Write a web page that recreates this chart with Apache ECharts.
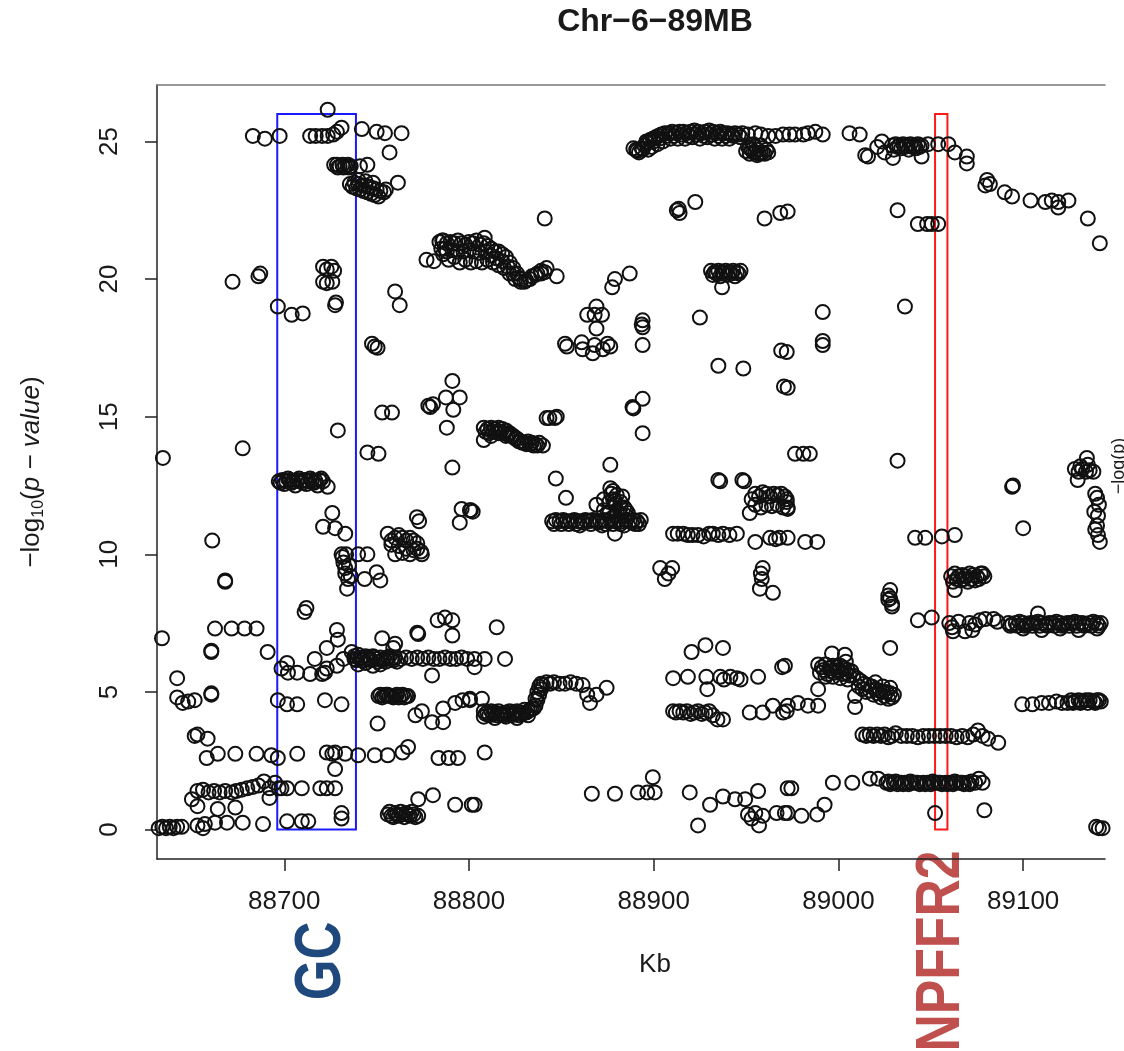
<!DOCTYPE html>
<html><head><meta charset="utf-8">
<script src="https://cdn.jsdelivr.net/npm/echarts@6/dist/echarts.min.js"></script>
<style>html,body{margin:0;padding:0;background:#fff}#c{width:1124px;height:1051px}</style>
</head><body><div id="c"></div>
<script>
// ---- Data (kb position, -log10 p) ----
const xTicks = [88700, 88800, 88900, 89000, 89100];
const yTicks = [0, 5, 10, 15, 20, 25];
const gcBox = [88696.2, 88738.8, 0, 26.0];
const npffr2Box = [89052.3, 89059.0, 0, 26.0];

const gcTop = [[88683,25.2],[88689.5,25.1],[88697.5,25.2],[88714,25.2],[88717,25.2],[88720.5,25.2],[88723.5,25.2],[88726.5,25.25],[88728.5,25.35],[88731,25.5],[88723.5,26.15],[88742,25.45],[88750,25.35],[88754.5,25.3],[88763.5,25.3],[88757,24.6]];
const gcBlob24 = [[88727,24.15],[88728.5,24.15],[88730,24.1],[88731.5,24.15],[88733,24.1],[88734.5,24.15],[88736,24.1],[88741,24.1],[88745,24.15],
  [88735.5,23.45],[88738,23.5],[88740,23.45],[88742,23.4],[88744,23.4],[88746,23.35],[88748,23.3],[88750,23.25],[88752,23.2],[88754,23.15],[88755,23.25],[88761.5,23.5],[88740,23.6],[88744,23.55],[88748,23.5],
  [88729,24.05],[88732,24.05],[88735,24.05],[88737,23.35],[88739,23.3],[88741,23.25],[88743,23.2],[88745,23.15],[88747,23.1],[88749,23.05],[88751,23.0]];
const gc20 = [[88721,20.45],[88723,20.35],[88725.5,20.45],[88727,20.3],[88721,19.9],[88723,19.85],[88726,19.9],[88728,19.15],[88727.5,19.05],[88687,20.2],[88686,20.1],[88672,19.9],
  [88696.5,19.0],[88704,18.7],[88710,18.75],[88760,19.55],[88762.5,19.05],[88747.5,17.65],[88749,17.55],[88750.5,17.5]];
const band21 = [[88784,21.35],[88786,21.4],[88788,21.3],[88790,21.35],[88792,21.3],[88794,21.4],[88796,21.3],[88798,21.25],[88800,21.35],[88802,21.3],[88804,21.4],[88806,21.25],[88808,21.3],[88810,21.2],[88812,21.1],[88814,21.0],[88816,21.0],[88818,20.9],[88820,20.8],[88822,20.6],[88824,20.4],[88826,20.2],[88828,20.0],
  [88786,20.9],[88789,20.7],[88792,20.8],[88795,20.6],[88798,20.7],[88801,20.6],[88804,20.65],[88807,20.6],[88810,20.7],[88813,20.6],[88816,20.5],[88819,20.4],[88822,20.2],[88825,20.0],[88828,19.9],[88831,19.95],[88834,20.1],[88837,20.2],[88839,20.3],[88841,20.25],[88842,20.4],
  [88808.5,21.5],[88847.5,20.1],[88777,20.7],[88781,20.65],[88785.5,21.4],[88787,21.1],[88841,22.2],
  [88785,21.1],[88788,21.0],[88791,21.05],[88794,21.0],[88797,21.0],[88800,21.05],[88803,21.0],[88806,20.95],[88809,21.0],[88812,20.85],[88815,20.75],[88818,20.65],[88821,20.45],[88824,20.2],[88827,20.05],[88830,19.9],[88833,20.0],[88836,20.15],[88839,20.2]];
const top25 = [[88889,24.75],[88890.5,24.7],[88892,24.6],[88893.5,24.75],[88895,24.85],[88896.5,24.95],[88898,25.05],[88899.5,25.1],[88901,25.15],[88902.5,25.2],[88904,25.25],[88906,25.3],[88908,25.3],[88910,25.35],[88912,25.3],[88914,25.35],[88916,25.35],[88918,25.3],[88920,25.35],[88922,25.4],[88924,25.35],[88926,25.3],[88928,25.35],[88930,25.4],[88932,25.35],[88934,25.3],[88936,25.35],[88938,25.3],[88940,25.3],[88942,25.25],[88944,25.3],[88946,25.25],[88948,25.3],[88951,25.25],[88955,25.3],[88958,25.25],[88962,25.2],[88966,25.2],[88970,25.25],[88973.5,25.25],
  [88897,24.7],[88899,24.8],[88902,24.9],[88905,25.0],[88909,25.1],[88913,25.1],[88917,25.1],[88921,25.15],[88925,25.1],[88929,25.15],[88933,25.1],[88937,25.1],[88941,25.1],
  [88896,25.0],[88900,25.0],[88903,25.1],[88907,25.2],[88911,25.2],[88915,25.25],[88919,25.2],[88923,25.25],[88927,25.2],[88931,25.25],[88935,25.2],[88939,25.2],[88943,25.2],[88947,25.15],[88891,24.65],[88894,24.7],
  [88951,24.8],[88953,24.7],[88955,24.6],[88957,24.55],[88959,24.6],[88961,24.7],[88954,24.9],[88958,24.85],[88952,24.55],[88956,24.5],
  [88950,24.65],[88952,24.75],[88954,24.6],[88956,24.7],[88958,24.6],[88960,24.55],[88962,24.6],
  [88976.5,25.25],[88981,25.25],[88983.5,25.3],[88987.5,25.35],[88991.5,25.25],[89006,25.3],[89011.5,25.25]];
const npTop = [[89014.5,24.5],[89016,24.45],[89023.5,25.0],[89021,24.8],[89025,24.6],[89029.5,24.4],[89045,24.45],
  [89029,24.85],[89031,24.9],[89033,24.85],[89035,24.9],[89037,24.85],[89039,24.9],[89041,24.85],[89043,24.9],[89045,24.85],[89030,24.7],[89034,24.75],[89038,24.7],[89042,24.75],
  [89032,24.8],[89036,24.8],[89040,24.8],[89044,24.8],
  [89048.5,24.9],[89054,24.9],[89059.5,24.9],[89063,24.6],[89069.5,24.45],[89069.5,24.2],
  [89080.5,23.6],[89079.5,23.4],[89082,23.45],[89090,23.15],[89094,23.0],[89104,22.85],[89112,22.8],[89115.5,22.85],[89119,22.8],[89119,22.6],[89124.5,22.85],[89135,22.2],[89141.5,21.3],
  [89032,22.5],[89043,22.0],[89048,22.0],[89050.5,22.0],[89054,22.0],[89036,19.0]];
const mid22 = [[88960,22.2],[88968.5,22.4],[88972.5,22.45],[88912.5,22.5],[88913.5,22.55],[88914,22.4],[88922.5,22.8],[88991.5,18.8],[88991.5,17.75],
  [88931,20.3],[88933,20.25],[88935,20.3],[88937,20.25],[88939,20.3],[88941,20.25],[88943,20.3],[88945,20.25],[88947,20.3],[88932,20.15],[88936,20.1],[88940,20.15],[88944,20.1],[88937,19.7],[88925,18.6],
  [88934,20.2],[88938,20.2],[88942,20.2],[88946,20.2],
  [88887,20.2],[88879,20.0],[88877.5,19.7],[88869,19.0],[88864,18.7],[88868,18.7],[88872,18.7],[88869,18.2],[88894,18.25],[88894,18.5],[88893.5,18.35],
  [88852,17.65],[88861,17.7],[88868,17.6],[88875,17.65],[88853,17.55],[88861.5,17.45],[88867,17.3],[88872.5,17.45],[88876.5,17.55],[88894,17.6]];
const mid15 = [[88935,16.85],[88948.5,16.75],[88969,17.4],[88970.5,16.1],[88972,17.35],[88972.5,16.05],[88991.5,17.6],
  [88888.5,15.35],[88889,15.3],[88894,15.65],[88894,14.4],
  [88808,14.6],[88810,14.55],[88812,14.6],[88814,14.55],[88816,14.6],[88818,14.55],[88820,14.5],[88822,14.4],[88824,14.3],[88826,14.2],[88828,14.1],[88830,14.05],[88832,14.1],[88834,14.05],[88836,14.0],[88838,14.05],[88840,13.95],[88808,14.15],[88812,14.3],[88816,14.4],[88820,14.3],
  [88809,14.45],[88811,14.4],[88813,14.45],[88815,14.45],[88817,14.45],[88819,14.4],[88821,14.35],[88823,14.3],[88825,14.2],[88827,14.1],[88829,14.05],[88831,14.0],[88833,14.0],[88835,13.95],[88837,13.95],
  [88842,14.95],[88843.5,14.95],[88846.5,14.95],[88847.5,15.0],[88876.5,13.25],[88847,12.75],[88852.5,12.05],[88802,11.55],[88801,11.6]];
const band11 = [[88845,11.2],[88847,11.25],[88849,11.2],[88851,11.25],[88853,11.2],[88855,11.2],[88857,11.25],[88859,11.2],[88861,11.2],[88863,11.25],[88865,11.2],[88867,11.25],[88869,11.2],[88871,11.2],[88873,11.25],[88875,11.2],[88877,11.3],[88879,11.2],[88881,11.25],[88883,11.2],[88885,11.25],[88887,11.2],[88889,11.25],[88891,11.2],[88893,11.25],
  [88860,11.05],[88866,11.1],[88872,11.05],[88878,11.1],[88884,11.05],[88890,11.1],
  [88846,11.1],[88850,11.1],[88854,11.1],[88858,11.1],[88862,11.15],[88870,11.15],[88874,11.1],[88882,11.1],[88888,11.15],[88892,11.1],
  [88876.5,12.4],[88877,12.2],[88878,12.0],[88879,11.8],[88880,11.6],[88882,11.9],[88884,11.7],[88883,12.1],[88886,11.5],[88875,11.5],[88869,11.8],[88879,10.75],[88878,12.3],[88880,12.15],
  [88873,12.0],[88876,11.9],[88879,11.95],[88882,11.7],[88885,11.6],[88873,11.6],[88876,11.5],[88879,11.4],[88882,11.4],[88885,11.4]];
const mid12 = [[88935,12.7],[88936,12.65],[88948,12.7],[88949,12.65],
  [88952,11.5],[88953,12.0],[88955,12.2],[88957,12.1],[88959,12.25],[88961,12.2],[88963,12.1],[88965,12.2],[88967,12.15],[88969,12.2],[88971,12.1],[88955,11.8],[88958,11.7],[88961,11.8],[88964,11.75],[88967,11.8],[88970,11.7],[88972,11.9],[88972.5,11.65],
  [88910.5,10.75],[88913,10.75],[88916,10.75],[88918.5,10.7],[88921,10.7],[88924,10.7],[88927,10.65],[88930,10.75],[88932,10.75],[88935,10.7],[88937.5,10.75],[88941,10.7],[88945,10.75],[88955,10.45],[88963,10.6],[88966,10.55],[88968,10.6],[88972.5,10.6],[88982,10.45],[88988.5,10.45],
  [88906,9.1],[88903.5,9.5],[88910,9.5],[88908,9.3],[88959,9.5],[88958.5,9.1],[88957.5,8.75],[88964.5,8.6],[88958,9.3],
  [88976.5,13.65],[88981,13.65],[88984.5,13.65],[88972,12.0],[88972.5,11.7]];
const np9 = [[89041.5,10.6],[89047,10.6],[89056,10.65],[89063,10.7],
  [89061,9.2],[89063,9.3],[89065,9.2],[89067,9.25],[89069,9.2],[89071,9.3],[89073,9.25],[89075,9.2],[89077,9.3],[89079,9.2],[89062,9.0],[89066,9.05],[89070,9.0],[89074,9.05],[89063,8.7],
  [89064,9.1],[89068,9.1],[89072,9.1],[89076,9.1],[89078,9.3],
  [89028,8.7],[89027,8.35],[89029,8.2],[89028,8.4],[89027,8.5],
  [89134.5,13.5],[89129.5,12.7],[89128,13.1],[89130,13.0],[89132,13.1],[89134,13.0],[89136,13.05],[89138,13.0],[89131,13.2],[89135,13.25],[89139,12.2],[89138.5,11.55],[89140.5,11.4],[89139,10.9],[89140.5,10.7],[89141.5,10.45],[89140,11.05],[89141,11.8],[89140,12.05],
  [89094.5,12.5],[89094,12.45],[89100,10.95],[89032,13.4]];
const gcMid = [[88634.3,13.5],[88677.5,13.85],[88661,10.5],[88668,9.0],[88668,9.05],
  [88697,12.65],[88699,12.7],[88701,12.65],[88703,12.7],[88705,12.65],[88707,12.7],[88709,12.65],[88711,12.7],[88713,12.65],[88715,12.7],[88717,12.65],[88719,12.7],[88721,12.65],[88723.5,12.45],[88700,12.55],[88706,12.5],[88712,12.55],[88718,12.5],
  [88698,12.6],[88702,12.75],[88704,12.6],[88708,12.75],[88710,12.6],[88714,12.75],[88716,12.6],[88720,12.75],
  [88729,14.5],[88726,11.5],[88721,11.0],[88727.5,10.95],[88733,10.75],
  [88731,10.0],[88733.5,10.0],[88733,9.5],[88734.5,9.1],[88734,8.75],[88732,9.7],[88733,9.3],[88731.5,9.9],[88735,9.6],[88736,9.2],[88740,10.0],[88745,10.0],[88743.5,9.1],[88750,9.35],[88752,9.05],
  [88745,13.7],[88751,13.65],[88753,15.15],[88758.3,15.15],
  [88791,16.3],[88787.5,15.7],[88795,15.7],[88778,15.4],[88780.5,15.45],[88779,15.35],[88791.5,15.25],[88788,14.6],[88791,13.15],
  [88796,11.65],[88800.5,11.6],[88795,11.15],
  [88771.8,11.35],[88773,11.2],[88756,10.75],[88758,10.5],[88760,10.6],[88762,10.7],[88764,10.6],[88766,10.5],[88768,10.6],[88770,10.5],[88772,10.4],[88758,10.35],[88762,10.3],[88766,10.2],[88770,10.15],[88774,10.1],[88774.5,10.0],[88760,10.0],[88764,10.05],[88768,10.0],[88772,10.2],
  [88712,8.05]];
const lowLeft = [[88633.8,6.95],[88662.5,7.3],[88671.5,7.3],[88678.5,7.3],[88685,7.3],[88660.5,6.5],[88660.5,6.45],[88691,6.45],[88711,7.9],
  [88642,5.5],[88642,4.8],[88645,4.6],[88648,4.65],[88651.5,4.7],[88660.5,4.95],[88660.5,4.9],
  [88651.5,3.4],[88653,3.45],[88658.5,3.3],
  [88658,2.6],[88664,2.75],[88673.5,2.75],[88685,2.75],[88693,2.7],[88696.5,2.6],[88707,2.75],
  [88723,2.8],[88726,2.75],[88727.5,2.8],[88733,2.75],[88727.5,2.2],
  [88740,2.7],[88749,2.7],[88756,2.7],[88764,2.8],[88767,3.0],[88783.5,2.6],[88789,2.6],[88794,2.6],
  [88650,1.1],[88653,1.4],[88656,1.45],[88659,1.35],[88662,1.4],[88665,1.35],[88668,1.4],[88671.5,1.35],[88674,1.4],[88677,1.45],[88680,1.5],[88683,1.55],[88686,1.6],[88689,1.75],[88692,1.5],[88692,1.15],[88695,1.7],[88697,1.5],
  [88698.5,1.5],[88701.5,1.5],[88709.5,1.5],[88719.5,1.5],[88723,1.5],[88727.5,1.5],
  [88653,0.85],[88664,0.75],[88673.5,0.8],
  [88630,0.1],[88632,0.05],[88634,0.1],[88636,0.05],[88638,0.1],[88640,0.05],[88642,0.1],[88644.5,0.1],[88653,0.15],[88656,0.05],[88657,0.2],[88662.5,0.25],[88669,0.25],[88677.5,0.25],[88688.5,0.2],[88701.5,0.3],[88709.5,0.3],[88713,0.3],[88731,0.4],[88731,0.6],[88631,0.7],[88631,0.4]];
const gc6 = [[88701.5,6.05],[88698.5,5.85],[88702,5.7],[88707,5.7],[88714,5.65],[88720.5,5.65],[88723,5.85],[88722,5.7],[88728.5,5.95],[88732,6.2],[88736.5,6.45],[88738,6.2],[88716.5,6.2],[88723,6.6],[88728.5,7.25],[88729,6.9],
  [88696.5,4.7],[88701.5,4.55],[88707,4.55],[88722,4.7],[88731,4.55],
  [88738,6.3],[88740,6.35],[88742,6.25],[88744,6.3],[88746,6.2],[88748,6.3],[88750,6.2],[88752,6.25],[88754,6.2],[88756,6.25],[88758,6.2],[88760,6.25],[88763,6.2],[88766,6.25],[88769,6.2],[88772,6.25],[88775,6.2],[88778,6.25],[88781,6.2],[88784,6.2],[88787,6.25],[88790,6.2],[88793,6.2],[88796,6.25],[88799,6.2],[88803,6.2],[88808.5,6.2],[88819.5,6.2],[88740,6.0],[88744,6.05],[88748,5.95],[88752,6.0],[88803,5.9],
  [88739,6.15],[88741,6.2],[88743,6.15],[88745,6.25],[88747,6.15],[88749,6.25],[88751,6.1],[88753,6.15],[88755,6.1],[88757,6.3],[88759,6.15],[88761,6.1],
  [88753,6.95],[88760,6.75],[88759,6.6],[88772.5,7.1],[88772,7.15],[88783,7.6],[88787,7.7],[88791,7.6],[88791,7.05],[88815,7.35],[88780,5.6],
  [88751,4.85],[88753,4.8],[88755,4.9],[88757,4.85],[88759,4.8],[88761,4.9],[88763,4.85],[88765,4.8],[88767,4.85],
  [88752,4.9],[88754,4.85],[88756,4.9],[88758,4.85],[88760,4.85],[88762,4.8],[88764,4.9],[88766,4.85],
  [88750.5,3.85],[88771,4.15],[88774.5,4.3],[88780,3.9],[88786,3.9],[88786,4.4],[88792.5,4.6],[88796.5,4.7],[88800.5,4.7],[88807,4.75],[88800.5,4.75],
  [88756,0.55],[88758,0.5],[88760,0.6],[88762,0.5],[88764,0.55],[88766,0.6],[88768,0.5],[88770,0.55],[88772.5,0.5],[88772.5,1.1],[88780.5,1.25],[88792.5,0.9],[88801.5,0.9],[88803,0.9],
  [88757,0.65],[88759,0.45],[88761,0.55],[88763,0.65],[88765,0.45],[88767,0.55],[88769,0.65],[88771,0.45]];
const mid4 = [[88808,4.3],[88810,4.25],[88812,4.3],[88814,4.25],[88816,4.3],[88818,4.2],[88820,4.25],[88822,4.3],[88824,4.25],[88826,4.3],[88828,4.25],[88830,4.35],[88832,4.3],[88834,4.4],[88836,4.5],[88837,4.7],[88838,4.9],[88839,5.1],[88840,5.25],[88842,5.35],[88844,5.3],[88846,5.35],[88849,5.3],[88852,5.3],[88855,5.35],[88858,5.3],[88861.5,5.25],[88864,4.9],[88865.5,4.6],[88869,4.9],[88874.5,5.15],[88808,4.1],[88814,4.05],[88820,4.1],[88826,4.05],[88832,4.15],
  [88809,4.2],[88811,4.15],[88813,4.2],[88815,4.15],[88817,4.2],[88819,4.15],[88821,4.2],[88823,4.15],[88825,4.2],[88827,4.15],[88829,4.2],[88831,4.25],[88833,4.35],[88835,4.4],[88836,4.75],[88837,5.0],[88838,5.2],[88839,5.3],
  [88808.5,2.8],[88866.5,1.3],[88879,1.3],[88891.5,1.35],[88896.5,1.35],[88900.5,1.35],[88899.5,1.9],[88919.5,1.35],[88924,0.15],[88930.5,0.9],[88937.5,1.2],[88944,1.1],[88949.5,1.1],[88956.5,1.4],[88951,0.55],[88953,0.4],[88955,0.6],[88957,0.15],[88959,0.5],[88966.5,0.6],[88972.5,0.6],[88972.5,1.5],
  [88910.5,5.5],[88918.5,5.55],[88928.5,5.55],[88929,5.1],[88936,5.55],[88938,5.45],[88941.5,5.55],[88945,5.5],[88947,5.45],[88956.5,5.55],[88920.5,6.45],[88928,6.7],[88937.5,6.6],[88969.5,5.9],
  [88910.5,4.3],[88912,4.25],[88914,4.3],[88916,4.25],[88918,4.3],[88920,4.2],[88922,4.25],[88924,4.3],[88926,4.2],[88928,4.25],[88930,4.3],[88932,4.15],[88934.5,4.0],[88937.5,4.0],[88952,4.25],[88959,4.25],[88964.5,4.5],[88970,4.25],[88972,4.3]];
const right6 = [[88971,5.95],[88972.6,4.5],[88978,4.6],[88983.5,4.5],[88989,4.5],
  [88989,6.0],[88991,5.9],[88993,6.0],[88995,5.85],[88997,5.95],[88999,5.9],[89001,5.95],[89003,5.85],[89005,5.8],[89007,5.75],[88990,5.7],[88994,5.65],[88998,5.7],[89002,5.65],[89006,5.6],[89010,5.5],[89012,5.4],[89014,5.3],[89016,5.25],[89018,5.2],[89020,5.1],[89022,5.05],[89024,5.0],[89026,5.0],[89028,4.95],[89030,4.9],[89015,5.0],[89019,4.9],[89023,4.8],[89027,4.75],[89020,5.35],[89024,5.2],[89028,5.15],[88996.5,6.4],[89003.5,6.35],[88989,5.1],[89009,4.85],[89009,4.45],[89000,5.8],[89004,6.1],
  [88992,5.8],[88996,5.75],[89000,5.75],[89004,5.7],[89008,5.6],[88993,5.55],[88997,5.55],[89001,5.5],[89005,5.45],[89011,5.2],[89013,5.1],[89017,5.05],[89021,4.95],[89025,4.85],[89029,4.8],
  [89028,6.6],[89029,8.1]];
const right3 = [[89013,3.45],[89015,3.4],[89017,3.45],[89019,3.4],[89021,3.45],[89023,3.4],[89025,3.45],[89027,3.35],[89029,3.4],[89031,3.5],[89034,3.4],[89037,3.4],[89040,3.4],[89043,3.35],[89046,3.4],[89049,3.4],[89052,3.4],[89055,3.4],[89058,3.4],[89061,3.4],[89064,3.35],[89067,3.4],[89070,3.35],[89073,3.45],[89075.5,3.6],[89078,3.4],[89081,3.3],[89086.5,3.15],
  [89026,1.7],[89028,1.65],[89030,1.7],[89032,1.65],[89034,1.7],[89036,1.7],[89038,1.65],[89040,1.7],[89042,1.7],[89044,1.65],[89046,1.7],[89048,1.7],[89050,1.65],[89052,1.7],[89054,1.7],[89056,1.65],[89058,1.7],[89060,1.7],[89062,1.65],[89064,1.7],[89066,1.7],[89068,1.65],[89070,1.7],[89072,1.75],[89074,1.7],[89076,1.85],[89078,1.7],
  [89027,1.75],[89031,1.75],[89035,1.65],[89039,1.75],[89043,1.7],[89047,1.65],[89051,1.75],[89055,1.7],[89059,1.65],[89063,1.75],[89067,1.7],[89071,1.65],
  [88997,1.7],[89007.5,1.7],[89017,1.85],[89021.5,1.85],
  [88974.5,1.5],[88971,0.6],[88980,0.5],[88988.5,0.55],[88992.5,0.9],[89052.3,0.6],[89079,0.7],
  [89141,0.05],[89143,0.05],[89139.5,0.1]];
const right7 = [[89092,7.5],[89094,7.45],[89096,7.5],[89098,7.55],[89100,7.5],[89102,7.45],[89104,7.5],[89106,7.5],[89108,7.55],[89110,7.5],[89112,7.45],[89114,7.5],[89116,7.5],[89118,7.55],[89120,7.5],[89122,7.45],[89124,7.5],[89126,7.5],[89128,7.55],[89130,7.5],[89132,7.5],[89134,7.45],[89136,7.5],[89138,7.55],[89140,7.5],[89142,7.5],[89108,7.85],[89100,7.3],[89110,7.25],[89120,7.3],[89130,7.25],[89140,7.3],
  [89093,7.4],[89097,7.4],[89101,7.4],[89105,7.4],[89109,7.4],[89113,7.4],[89117,7.4],[89121,7.4],[89125,7.4],[89129,7.4],[89133,7.4],[89137,7.4],[89141,7.4],
  [89043,7.6],[89050.5,7.7],[89061.5,7.35],[89065,7.55],[89068.5,7.2],[89072.5,7.25],[89076.5,7.6],[89079.5,7.65],[89084,7.65],[89086,7.55],[89060,7.5],[89062,7.2],[89071,7.5],[89074,7.45],
  [89099.5,4.55],[89105,4.55],[89110,4.6],[89114,4.6],[89118,4.65],[89121,4.6],[89124,4.6],[89126,4.7],[89128,4.65],[89130,4.7],[89132,4.65],[89134,4.7],[89136,4.7],[89138,4.65],[89140,4.7],[89142,4.65],
  [89127,4.6],[89131,4.6],[89135,4.6],[89139,4.6],[89141,4.7]];

const allPoints = [].concat(gcTop, gcBlob24, gc20, band21, top25, npTop, mid22, mid15, band11, mid12, np9, gcMid, lowLeft, gc6, mid4, right6, right3, right7);

const chart = echarts.init(document.getElementById('c'), null, {renderer: 'canvas'});
const txt = '#1a1a1a';
const FF = '"Liberation Sans", Arial, Helvetica, sans-serif';
const boxArea = (b, color) => [{coord: [b[0], b[2]], itemStyle: {color: 'rgba(0,0,0,0)', borderColor: color, borderWidth: 2}}, {coord: [b[1], b[3]]}];

chart.setOption({
  animation: false,
  backgroundColor: '#ffffff',
  grid: {left: 157, top: 85, right: 19, bottom: 192, containLabel: false},
  xAxis: [{
    type: 'value', min: 88631.1, max: 89144.3, position: 'bottom',
    axisLine: {show: true, onZero: false, lineStyle: {color: '#222', width: 1.5}},
    axisTick: {show: true, length: 12, lineStyle: {color: '#222', width: 1.5}, customValues: xTicks},
    axisLabel: {show: true, customValues: xTicks, fontSize: 26, color: txt, fontFamily: FF, margin: 30, formatter: (v) => String(v)},
    splitLine: {show: false}
  }, {
    type: 'value', min: 88631.1, max: 89144.3, position: 'top',
    axisLine: {show: true, onZero: false, lineStyle: {color: '#777', width: 1.5}},
    axisTick: {show: false}, axisLabel: {show: false}, splitLine: {show: false}
  }],
  yAxis: {
    type: 'value', min: -1.07, max: 27.05,
    axisLine: {show: true, onZero: false, lineStyle: {color: '#222', width: 1.5}},
    axisTick: {show: true, length: 12, lineStyle: {color: '#222', width: 1.5}, customValues: yTicks},
    axisLabel: {show: true, customValues: yTicks, rotate: 90, fontSize: 26, color: txt, fontFamily: FF, margin: 34},
    splitLine: {show: false},
    name: '{n|−log}{s|10}{n|(}{i|p − value}{n|)}',
    nameLocation: 'middle', nameRotate: 90, nameGap: 110,
    nameTextStyle: {
      color: txt, fontFamily: FF,
      rich: {
        n: {fontSize: 26, fontFamily: FF, color: txt, lineHeight: 30},
        s: {fontSize: 16, fontFamily: FF, color: txt, lineHeight: 14, verticalAlign: 'bottom'},
        i: {fontSize: 26, fontFamily: FF, color: txt, fontStyle: 'italic', lineHeight: 30}
      }
    }
  },
  series: [{
    type: 'scatter',
    data: allPoints,
    symbol: 'circle',
    symbolSize: 14,
    clip: true,
    itemStyle: {color: 'rgba(0,0,0,0)', borderColor: '#111', borderWidth: 2, opacity: 1},
    emphasis: {disabled: true},
    markArea: {
      silent: true,
      data: [boxArea(gcBox, '#1a1aff'), boxArea(npffr2Box, '#ff1a1a')]
    }
  }],
  graphic: [
    {type: 'text', x: 655, y: 22, style: {text: 'Chr−6−89MB', font: 'bold 32px "Liberation Sans", Arial, sans-serif', fill: txt, textAlign: 'center', textVerticalAlign: 'middle'}},
    {type: 'text', x: 655, y: 965, style: {text: 'Kb', font: '26px "Liberation Sans", Arial, sans-serif', fill: txt, textAlign: 'center', textVerticalAlign: 'middle'}},
    {type: 'text', x: 322, y: 961, rotation: Math.PI / 2, scaleX: 0.82, style: {text: 'GC', font: 'bold 64px "Liberation Sans", Arial, sans-serif', fill: '#1f497d', textAlign: 'center', textVerticalAlign: 'middle'}},
    {type: 'text', x: 942, y: 951, rotation: Math.PI / 2, scaleX: 0.82, style: {text: 'NPFFR2', font: 'bold 63px "Liberation Sans", Arial, sans-serif', fill: '#c0504d', textAlign: 'center', textVerticalAlign: 'middle'}},
    {type: 'text', x: 1119, y: 466, rotation: Math.PI / 2, style: {text: '−log(p)', font: '18px "Liberation Sans", Arial, sans-serif', fill: txt, textAlign: 'center', textVerticalAlign: 'middle'}}
  ]
});
</script>
</body></html>
